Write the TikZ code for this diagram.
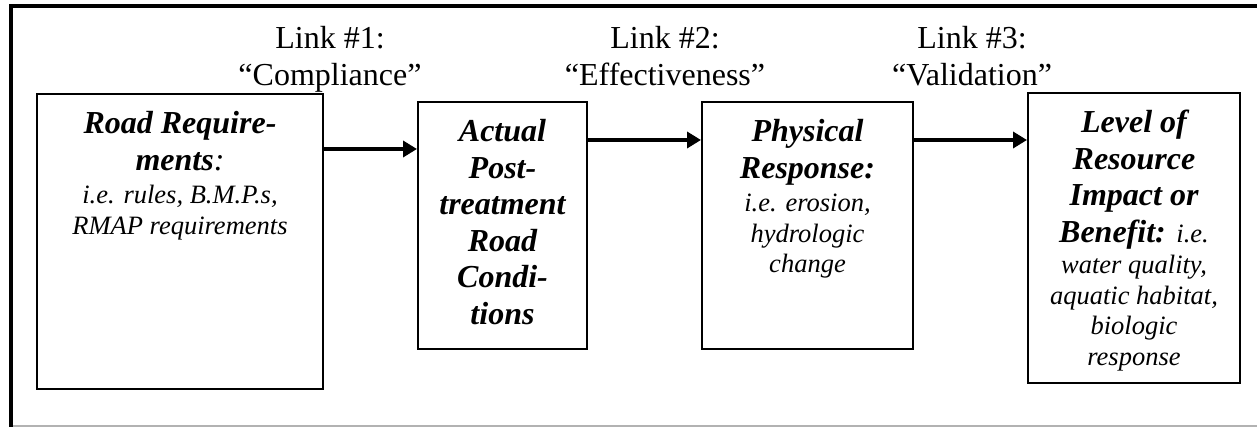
\documentclass[tikz,border=0pt]{standalone}
\usepackage{fontspec}
\setmainfont{Liberation Serif}
\usepackage{tikz}
\usetikzlibrary{arrows.meta, positioning, calc}

\newcommand{\bfit}{\bfseries\itshape\fontsize{32}{36.5}\selectfont}
\newcommand{\smit}{\mdseries\itshape\fontsize{26.5}{30.5}\selectfont}
\newcommand{\firstline}{\rule{0pt}{40pt}}
\newcommand{\stagebox}[3]{\parbox[c][#2][t]{#1}{\centering #3}}

\begin{document}
\begin{tikzpicture}[
        x=1pt, y=-1pt,
        stage/.style={rectangle, draw, line width=2pt, inner sep=0pt},
        link/.style={align=center, inner sep=0pt, anchor=north, font=\fontsize{32}{37}\selectfont},
        flow/.style={line width=3.5pt, -{Triangle[length=14pt, width=16pt]}}
    ]

    \useasboundingbox (0,0) rectangle (1257,427);
    \tikzstyle{frame} = [line width=4pt, line cap=rect]

    % outer frame
    \draw[frame] (1257,6) -| (11,427);
    \draw[gray!60, line width=1.5pt] (13,426) -- (1257,426);

    \node[stage] (b1) at (180,241.5) {\stagebox{286pt}{295pt}{%
        {\bfit\firstline Road Require-\\ ments\textmd{:}\par}
        {\smit\vspace{3pt}i.e. rules, B.M.P.s,\\ RMAP requirements\par}}};
    \node[stage] (b2) at (502.5,225.5) {\stagebox{169pt}{247pt}{%
        {\bfit\firstline Actual\\ Post-\\ treatment\\ Road\\ Condi-\\ tions\par}}};
    \node[stage] (b3) at (807.5,225.5) {\stagebox{211pt}{247pt}{%
        {\bfit\firstline Physical\\ Response:\par}
        {\smit\vspace{3pt}i.e. erosion,\\ hydrologic\\ change\par}}};
    \node[stage] (b4) at (1134,238) {\stagebox{212pt}{290pt}{%
        {\bfit\firstline Level of\\ Resource\\ Impact or\\ Benefit: {\smit i.e.}\par}
        {\smit\vspace{1pt}water quality,\\ aquatic habitat,\\ biologic\\ response\par}}};

    \node[link] (l1) at (330,26) {Link \#1:\\ ``Compliance''};
    \node[link] (l2) at (665,26) {Link \#2:\\ ``Effectiveness''};
    \node[link] (l3) at (972,26) {Link \#3:\\ ``Validation''};

    \draw[flow] ([yshift=92.5pt]b1.east) -- ([yshift=92.5pt]b1.east -| b2.west);
    \draw[flow] ([yshift=85.5pt]b2.east) -- ([yshift=85.5pt]b2.east -| b3.west);
    \draw[flow] ([yshift=85.5pt]b3.east) -- ([yshift=85.5pt]b3.east -| b4.west);

\end{tikzpicture}
\end{document}
